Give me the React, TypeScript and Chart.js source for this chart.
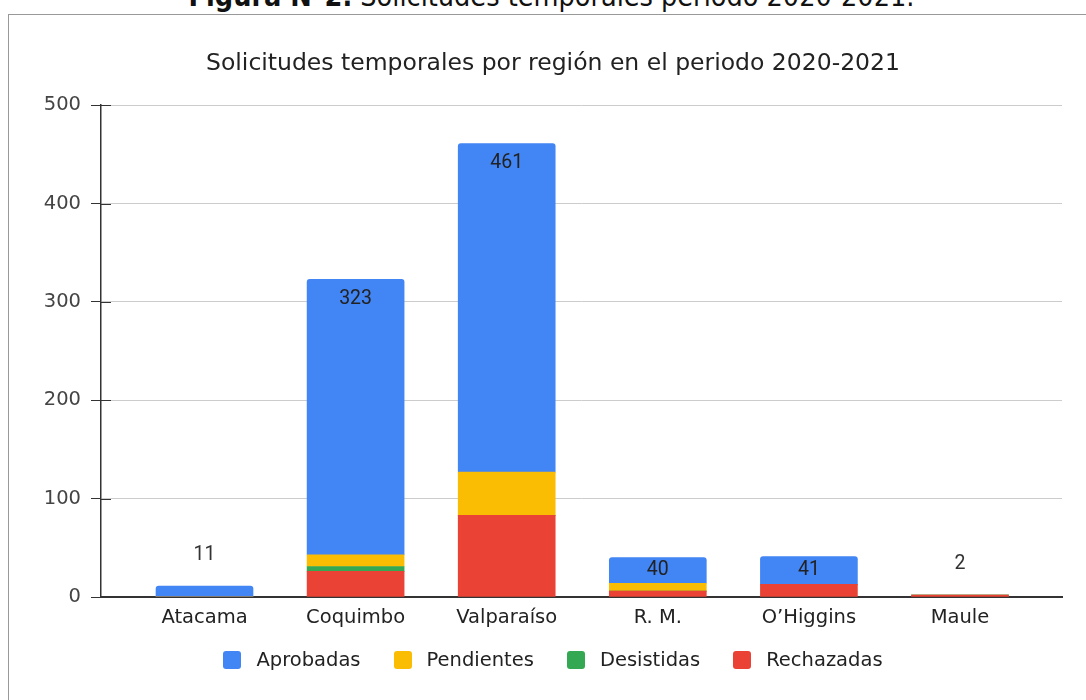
import React, { useEffect, useRef } from 'react';
import { Chart, registerables } from 'chart.js';

Chart.register(...registerables);

const categories = ['Atacama', 'Coquimbo', 'Valparaíso', 'R. M.', 'O’Higgins', 'Maule'];
const aprobadas = [11, 280, 334, 26, 28, 0];
const pendientes = [0, 12, 44, 8, 0, 0];
const desistidas = [0, 5, 0, 0, 0, 0];
const rechazadas = [0, 26, 83, 6, 13, 2];
const totals = [11, 323, 461, 40, 41, 2];
const yTicks = [0, 100, 200, 300, 400, 500];

const seriesNames = ['Aprobadas', 'Pendientes', 'Desistidas', 'Rechazadas'];
const seriesColors = ['#4285F4', '#FBBC04', '#34A853', '#EA4335'];

const FONT = '"DejaVu Sans", Verdana, sans-serif';

const totalLabels = {
  id: 'totalLabels',
  afterDatasetsDraw(chart: any) {
    const { ctx } = chart;
    const x = chart.scales.x;
    const y = chart.scales.y;
    ctx.save();
    // dark tick stubs just right of the vertical axis
    ctx.strokeStyle = '#333';
    ctx.lineWidth = 1;
    yTicks.forEach((v) => {
      const py = Math.round(y.getPixelForValue(v)) + 0.5;
      ctx.beginPath();
      ctx.moveTo(chart.chartArea.left, py);
      ctx.lineTo(chart.chartArea.left + 10, py);
      ctx.stroke();
    });
    ctx.font = '19.5px Roboto';
    ctx.textAlign = 'center';
    ctx.textBaseline = 'middle';
    totals.forEach((t, i) => {
      const px = x.getPixelForValue(i);
      const top = y.getPixelForValue(t);
      const base = y.getPixelForValue(0);
      const h = base - top;
      if (h >= 30) {
        const segH = y.getPixelForValue(t - aprobadas[i]) - top;
        ctx.fillStyle = '#222';
        ctx.fillText(String(t), px, top + Math.min(20, segH / 2));
      } else {
        ctx.fillStyle = '#333';
        ctx.fillText(String(t), px, top - 31);
      }
    });
    ctx.restore();
  },
};

export default function App() {
  const ref = useRef<HTMLCanvasElement>(null);
  useEffect(() => {
    const toXY = (arr: number[]) => arr.map((v, i) => ({ x: i, y: v }));
    const chart = new Chart(ref.current as HTMLCanvasElement, {
      type: 'bar',
      data: {
        datasets: [
          { label: seriesNames[3], data: toXY(rechazadas), backgroundColor: seriesColors[3] },
          { label: seriesNames[2], data: toXY(desistidas), backgroundColor: seriesColors[2] },
          { label: seriesNames[1], data: toXY(pendientes), backgroundColor: seriesColors[1] },
          {
            label: seriesNames[0],
            data: toXY(aprobadas),
            backgroundColor: seriesColors[0],
            borderRadius: { topLeft: 3, topRight: 3, bottomLeft: 0, bottomRight: 0 },
          },
        ] as any,
      },
      options: {
        animation: false,
        responsive: false,
        devicePixelRatio: 1,
        datasets: { bar: { barThickness: 97 } } as any,
        layout: { padding: { top: 0, left: 35, right: 24, bottom: 70 } },
        scales: {
          x: {
            type: 'linear',
            stacked: true,
            offset: false,
            min: -0.685,
            max: 5.675,
            afterFit: (s: any) => { s.height = 33; },
            afterBuildTicks: (s: any) => { s.ticks = categories.map((_, i) => ({ value: i })); },
            grid: { display: false, drawTicks: false, offset: false },
            border: { display: true, color: '#333', width: 2 },
            ticks: {
              autoSkip: false,
              maxRotation: 0,
              padding: 9,
              font: { family: FONT, size: 19.5 },
              color: '#222',
              callback: (v: any) => categories[v] ?? '',
            },
          } as any,
          y: {
            stacked: true,
            min: 0,
            max: 500,
            afterFit: (s: any) => { s.width = 57; },
            afterBuildTicks: (s: any) => { s.ticks = yTicks.map((v) => ({ value: v })); },
            grid: { color: '#cccccc', tickColor: '#333', tickLength: 10 },
            border: { color: '#333', width: 1.5 },
            ticks: {
              padding: 10,
              font: { family: FONT, size: 19.5 },
              color: '#444',
            },
          } as any,
        },
        plugins: {
          title: {
            display: true,
            text: 'Solicitudes temporales por región en el periodo 2020-2021',
            font: { family: FONT, size: 23.5, weight: 'normal' },
            color: '#222',
            padding: { top: 35, bottom: 27 },
          },
          legend: { display: false },
          tooltip: { enabled: false },
        },
      },
      plugins: [totalLabels],
    });
    return () => chart.destroy();
  }, []);

  return (
    <div style={{ position: 'absolute', left: 0, top: 0, width: 1086, height: 700, overflow: 'hidden', background: '#fff' }}>
      <div
        style={{
          position: 'absolute',
          left: 0,
          top: -20,
          width: 1103,
          textAlign: 'center',
          fontFamily: '"DejaVu Sans Condensed", "DejaVu Sans", sans-serif',
          fontStretch: 'condensed',
          fontSize: 28.5,
          color: '#111',
          whiteSpace: 'nowrap',
        }}
      >
        <b>Figura N°2.</b> Solicitudes temporales período 2020-2021.
      </div>
      <div
        style={{
          position: 'absolute',
          left: 8,
          top: 14,
          width: 1100,
          height: 700,
          borderLeft: '1px solid #999',
          borderTop: '1px solid #999',
        }}
      >
        <canvas
          ref={ref}
          width={1077}
          height={685}
          style={{ position: 'absolute', left: 0, top: 0, width: 1077, height: 685 }}
        />
      </div>
      <div
        style={{
          position: 'absolute',
          left: 0,
          top: 648,
          width: 1106,
          display: 'flex',
          justifyContent: 'center',
          alignItems: 'center',
          fontFamily: FONT,
          fontSize: 19.5,
          lineHeight: '24px',
          color: '#222',
          whiteSpace: 'nowrap',
        }}
      >
        {seriesNames.map((name, i) => (
          <div key={name} style={{ display: 'flex', alignItems: 'center', marginLeft: i === 0 ? 0 : 33 }}>
            <span
              style={{
                display: 'inline-block',
                width: 18,
                height: 18,
                borderRadius: 3,
                background: seriesColors[i],
                marginRight: 15,
              }}
            />
            <span>{name}</span>
          </div>
        ))}
      </div>
    </div>
  );
}
